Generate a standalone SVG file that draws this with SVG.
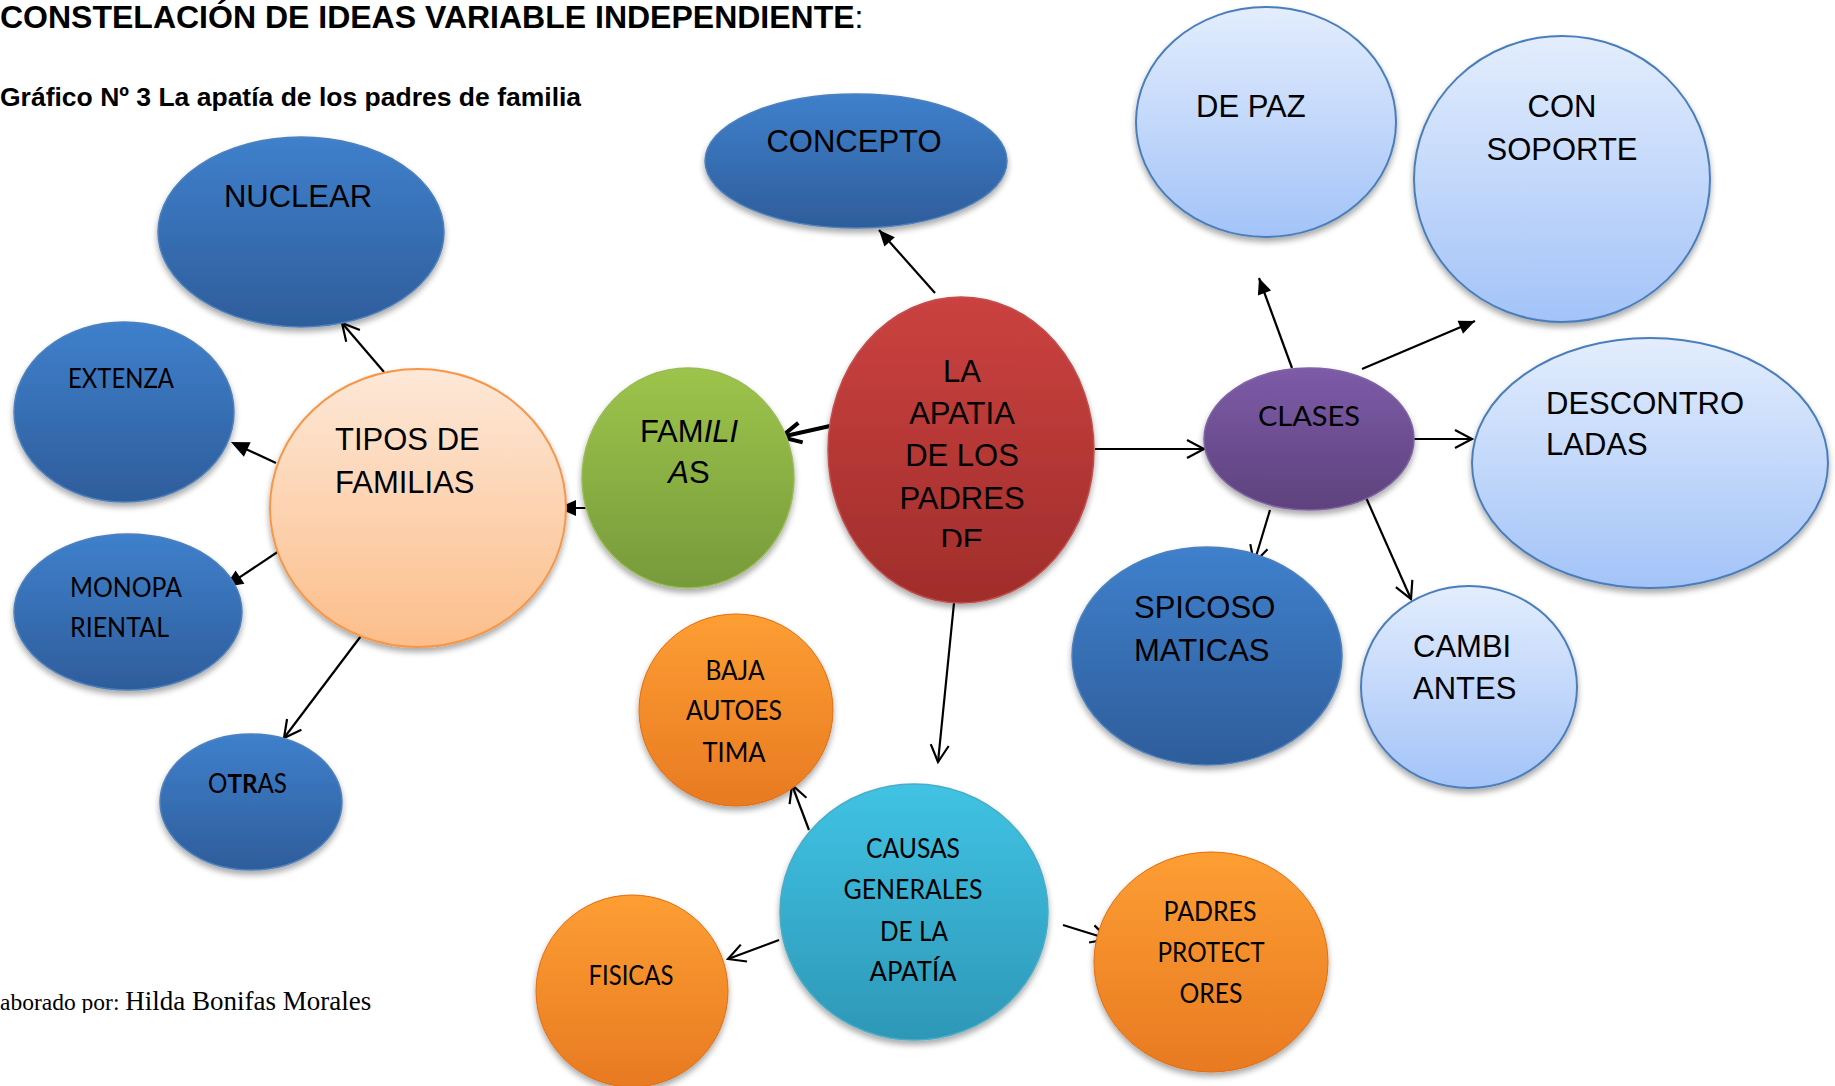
<svg xmlns="http://www.w3.org/2000/svg" width="1835" height="1086" viewBox="0 0 1835 1086">
<style>
.ar{font-family:"Liberation Sans",Arial,sans-serif;font-size:31px;fill:#000}
.cb{font-family:Lato,"Open Sans",sans-serif;font-size:26px;fill:#000}
.mid{text-anchor:middle}
.ln{fill:none;stroke:#000;stroke-width:2.2}
.thick{stroke-width:4}
.sh{filter:url(#shadow)}
</style>
<defs>
<filter id="shadow" x="-20%" y="-20%" width="140%" height="150%">
<feGaussianBlur in="SourceAlpha" stdDeviation="3"/>
<feOffset dy="4" result="b"/>
<feComponentTransfer><feFuncA type="linear" slope="0.35"/></feComponentTransfer>
<feMerge><feMergeNode/><feMergeNode in="SourceGraphic"/></feMerge>
</filter>
<linearGradient id="gBlue" x1="0" y1="0" x2="0" y2="1"><stop offset="0" stop-color="#3f80cc"/><stop offset="1" stop-color="#2e5d9b"/></linearGradient>
<linearGradient id="gLight" x1="0" y1="0" x2="0" y2="1"><stop offset="0" stop-color="#e3edfd"/><stop offset="1" stop-color="#a3c3f8"/></linearGradient>
<linearGradient id="gGreen" x1="0" y1="0" x2="0" y2="1"><stop offset="0" stop-color="#9dc44b"/><stop offset="1" stop-color="#779a3b"/></linearGradient>
<linearGradient id="gRed" x1="0" y1="0" x2="0" y2="1"><stop offset="0" stop-color="#cb4240"/><stop offset="1" stop-color="#a02d2b"/></linearGradient>
<linearGradient id="gPurple" x1="0" y1="0" x2="0" y2="1"><stop offset="0" stop-color="#7d5ba7"/><stop offset="1" stop-color="#5d427d"/></linearGradient>
<linearGradient id="gPeach" x1="0" y1="0" x2="0" y2="1"><stop offset="0" stop-color="#fde8d8"/><stop offset="1" stop-color="#fcbe8a"/></linearGradient>
<linearGradient id="gOrange" x1="0" y1="0" x2="0" y2="1"><stop offset="0" stop-color="#fd9e33"/><stop offset="1" stop-color="#e87a22"/></linearGradient>
<linearGradient id="gCyan" x1="0" y1="0" x2="0" y2="1"><stop offset="0" stop-color="#40c3e4"/><stop offset="1" stop-color="#2e97b7"/></linearGradient>
<marker id="tri" markerUnits="userSpaceOnUse" markerWidth="18" markerHeight="16" refX="16" refY="7" orient="auto" overflow="visible"><path d="M0,0 L16,7 L0,14 Z" fill="#000"/></marker>
<marker id="triT" markerUnits="userSpaceOnUse" markerWidth="20" markerHeight="18" refX="10" refY="8" orient="auto" overflow="visible"><path d="M0,0 L18,8 L0,16 Z" fill="#000"/></marker>
<marker id="open" markerUnits="userSpaceOnUse" markerWidth="20" markerHeight="22" refX="18" refY="10" orient="auto" overflow="visible"><path d="M1,1 L18,10 L1,19" fill="none" stroke="#000" stroke-width="2.2"/></marker>
<marker id="openT" markerUnits="userSpaceOnUse" markerWidth="26" markerHeight="26" refX="22" refY="11" orient="auto" overflow="visible"><path d="M2,1 L22,11 L2,21" fill="none" stroke="#000" stroke-width="4"/></marker>
<clipPath id="clipRed"><rect x="828" y="290" width="266" height="257"/></clipPath>
<clipPath id="clipFoot"><rect x="0" y="960" width="600" height="53"/></clipPath>
</defs>
<rect width="1835" height="1086" fill="#fff"/>

<g id="title">
<text x="0" y="28" font-family="Liberation Sans, Arial, sans-serif" font-weight="bold" font-size="32">CONSTELACIÓN DE IDEAS VARIABLE INDEPENDIENTE<tspan font-weight="normal">:</tspan></text>
<text x="0" y="106" font-family="Liberation Sans, Arial, sans-serif" font-weight="bold" font-size="26.5">Gráfico Nº 3 La apatía de los padres de familia</text>
</g>

<g id="footer" clip-path="url(#clipFoot)">
<text x="0" y="1010" font-family="Liberation Serif, 'Times New Roman', serif"><tspan font-size="23.5">aborado por: </tspan><tspan font-size="27">Hilda Bonifas Morales</tspan></text>
</g>

<g id="connectors">
<path class="ln" d="M935,293 L879,230" stroke-width="2.6" marker-end="url(#tri)"/>
<path class="ln thick" d="M830,426 L781,437" marker-end="url(#openT)"/>
<path class="ln" d="M606,508 L566,508" stroke-width="3.8" marker-end="url(#triT)"/>
<path class="ln" d="M384,372 L342,323" marker-end="url(#open)"/>
<path class="ln" d="M276,463 L238.2,445.4" stroke-width="3.8" marker-end="url(#triT)"/>
<path class="ln" d="M282,549 L231.7,582.6" stroke-width="3.8" marker-end="url(#triT)"/>
<path class="ln" d="M370,624 L284,738" marker-end="url(#open)"/>
<path class="ln" d="M1095,449 L1204,449" marker-end="url(#open)"/>
<path class="ln" d="M1292,368 L1259,278" stroke-width="2.6" marker-end="url(#tri)"/>
<path class="ln" d="M1362,369 L1475,321" stroke-width="2.6" marker-end="url(#tri)"/>
<path class="ln" d="M1413,439 L1472,439" marker-end="url(#open)"/>
<path class="ln" d="M1270,510 L1254,563" marker-end="url(#open)"/>
<path class="ln" d="M1364,493 L1411,599" marker-end="url(#open)"/>
<path class="ln" d="M954,603 L938,762" marker-end="url(#open)"/>
<path class="ln" d="M809,830 L792,785" marker-end="url(#open)"/>
<path class="ln" d="M779,940 L728,959" marker-end="url(#open)"/>
<path class="ln" d="M1063,925 L1108,939" marker-end="url(#open)"/>
</g>

<g id="concepto">
<ellipse class="sh" cx="856" cy="161" rx="151" ry="67" fill="url(#gBlue)" stroke="#4f81bd" stroke-width="1.5"/>
<text class="ar mid" x="854" y="152">CONCEPTO</text>
</g>

<g id="nuclear">
<ellipse class="sh" cx="301" cy="232" rx="143" ry="95" fill="url(#gBlue)" stroke="#4f81bd" stroke-width="1.5"/>
<text class="ar mid" x="298" y="207">NUCLEAR</text>
</g>

<g id="extenza">
<ellipse class="sh" cx="124" cy="412" rx="110" ry="90" fill="url(#gBlue)" stroke="#4f81bd" stroke-width="1.5"/>
<text class="cb" x="68" y="388" textLength="106" lengthAdjust="spacingAndGlyphs">EXTENZA</text>
</g>

<g id="monoparental">
<ellipse class="sh" cx="128" cy="612" rx="114" ry="78" fill="url(#gBlue)" stroke="#4f81bd" stroke-width="1.5"/>
<text class="cb" x="70" y="597" textLength="112" lengthAdjust="spacingAndGlyphs">MONOPA</text>
<text class="cb" x="70" y="637" textLength="99" lengthAdjust="spacingAndGlyphs">RIENTAL</text>
</g>

<g id="otras">
<ellipse class="sh" cx="251" cy="802" rx="91" ry="68" fill="url(#gBlue)" stroke="#4f81bd" stroke-width="1.5"/>
<text class="cb" x="208" y="793" textLength="79" lengthAdjust="spacingAndGlyphs">O<tspan font-weight="bold">TR</tspan>AS</text>
</g>

<g id="tipos">
<ellipse class="sh" cx="418" cy="508" rx="148" ry="139" fill="url(#gPeach)" stroke="#f79646" stroke-width="2"/>
<text class="ar" x="335" y="450">TIPOS DE</text>
<text class="ar" x="335" y="493">FAMILIAS</text>
</g>

<g id="familias">
<ellipse class="sh" cx="688" cy="478" rx="106" ry="110" fill="url(#gGreen)" stroke="#9bbb59" stroke-width="1.5"/>
<text class="ar mid" x="689" y="442">FAM<tspan font-style="italic">ILI</tspan></text>
<text class="ar mid" x="689" y="483"><tspan font-style="italic">A</tspan>S</text>
</g>

<g id="apatia">
<ellipse class="sh" cx="961" cy="450" rx="133" ry="153" fill="url(#gRed)" stroke="#c0504d" stroke-width="1.5"/>
<g clip-path="url(#clipRed)">
<text class="ar mid" x="962" y="382">LA</text>
<text class="ar mid" x="962" y="424">APATIA</text>
<text class="ar mid" x="962" y="466">DE LOS</text>
<text class="ar mid" x="962" y="509">PADRES</text>
<text class="ar mid" x="962" y="551">DE</text>
</g>
</g>

<g id="clases">
<ellipse class="sh" cx="1309" cy="439" rx="105" ry="71" fill="url(#gPurple)" stroke="#8064a2" stroke-width="1.5"/>
<text class="cb" x="1258" y="426" textLength="102" lengthAdjust="spacingAndGlyphs">CLASES</text>
</g>

<g id="depaz">
<ellipse class="sh" cx="1266" cy="122" rx="130" ry="115" fill="url(#gLight)" stroke="#4a7ebb" stroke-width="2"/>
<text class="ar" x="1196" y="117">DE PAZ</text>
</g>

<g id="consoporte">
<ellipse class="sh" cx="1562" cy="179" rx="148" ry="143" fill="url(#gLight)" stroke="#4a7ebb" stroke-width="2"/>
<text class="ar mid" x="1562" y="117">CON</text>
<text class="ar mid" x="1562" y="160">SOPORTE</text>
</g>

<g id="descontroladas">
<ellipse class="sh" cx="1650" cy="463" rx="178" ry="125" fill="url(#gLight)" stroke="#4a7ebb" stroke-width="2"/>
<text class="ar" x="1546" y="414">DESCONTRO</text>
<text class="ar" x="1546" y="455">LADAS</text>
</g>

<g id="spicosomaticas">
<ellipse class="sh" cx="1207" cy="656" rx="135" ry="109" fill="url(#gBlue)" stroke="#4f81bd" stroke-width="1.5"/>
<text class="ar" x="1134" y="618">SPICOSO</text>
<text class="ar" x="1134" y="661">MATICAS</text>
</g>

<g id="cambiantes">
<ellipse class="sh" cx="1469" cy="687" rx="108" ry="101" fill="url(#gLight)" stroke="#4a7ebb" stroke-width="2"/>
<text class="ar" x="1413" y="657">CAMBI</text>
<text class="ar" x="1413" y="699">ANTES</text>
</g>

<g id="baja">
<ellipse class="sh" cx="736" cy="710" rx="97" ry="96" fill="url(#gOrange)" stroke="#e46c0a" stroke-width="1"/>
<text class="cb mid" x="735" y="680" textLength="59" lengthAdjust="spacingAndGlyphs">BAJA</text>
<text class="cb mid" x="734" y="720" textLength="96" lengthAdjust="spacingAndGlyphs">AUTOES</text>
<text class="cb mid" x="734" y="762" textLength="63" lengthAdjust="spacingAndGlyphs">TIMA</text>
</g>

<g id="causas">
<ellipse class="sh" cx="914" cy="912" rx="134" ry="128" fill="url(#gCyan)" stroke="#4bacc6" stroke-width="1.5"/>
<text class="cb mid" x="913" y="858" textLength="94" lengthAdjust="spacingAndGlyphs">CAUSAS</text>
<text class="cb mid" x="913" y="899" textLength="139" lengthAdjust="spacingAndGlyphs">GENERALES</text>
<text class="cb mid" x="914" y="941" textLength="68" lengthAdjust="spacingAndGlyphs">DE LA</text>
<text class="cb mid" x="913" y="981" textLength="87" lengthAdjust="spacingAndGlyphs">APATÍA</text>
</g>

<g id="fisicas">
<ellipse class="sh" cx="632" cy="991" rx="96" ry="96" fill="url(#gOrange)" stroke="#e46c0a" stroke-width="1"/>
<text class="cb mid" x="631" y="985" textLength="85" lengthAdjust="spacingAndGlyphs">FISICAS</text>
</g>

<g id="padres">
<ellipse class="sh" cx="1211" cy="962" rx="117" ry="110" fill="url(#gOrange)" stroke="#e46c0a" stroke-width="1"/>
<text class="cb mid" x="1210" y="921" textLength="93" lengthAdjust="spacingAndGlyphs">PADRES</text>
<text class="cb mid" x="1211" y="962" textLength="107" lengthAdjust="spacingAndGlyphs">PROTECT</text>
<text class="cb mid" x="1211" y="1003" textLength="63" lengthAdjust="spacingAndGlyphs">ORES</text>
</g>
</svg>
